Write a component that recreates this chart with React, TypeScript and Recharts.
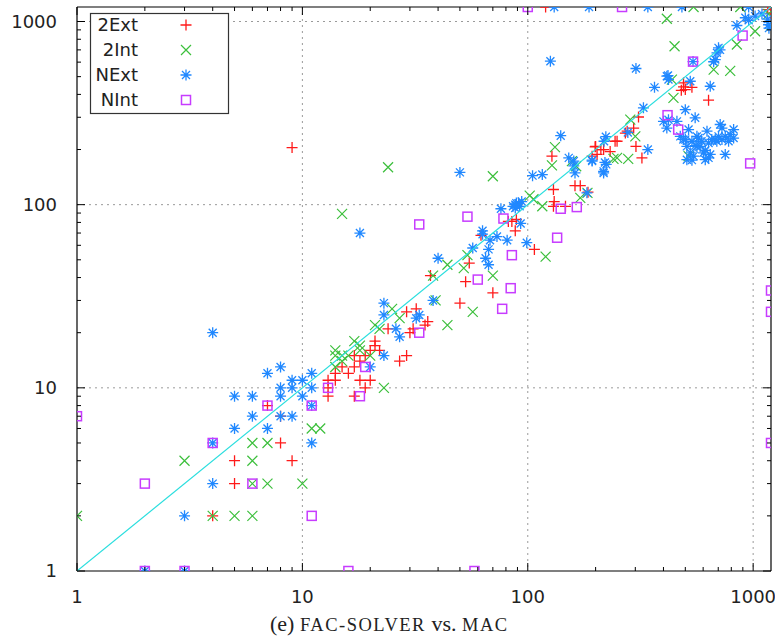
import React from "react";
import { ScatterChart, Scatter, XAxis, YAxis, CartesianGrid, ReferenceLine } from "recharts";

// log axis ticks (gnuplot style: 2..9 minor ticks in each decade)
const logTicks = [1, 2, 3, 4, 5, 6, 7, 8, 9, 10, 20, 30, 40, 50, 60, 70, 80, 90, 100, 200, 300, 400, 500, 600, 700, 800, 900, 1000];
const majorTicks = [1, 10, 100, 1000];
const gridValues = [10, 100, 1000];
const axisMax = 1200;

const seriesNames = ["2Ext", "2Int", "NExt", "NInt"];

// [FAC-SOLVER, MAC]
const ext2: [number, number][] = [
  [4, 2], [5, 4], [5, 3], [7, 8], [8, 7], [8, 5], [9, 4], [9, 205],
  [13, 11], [13, 10], [13, 9], [14, 12], [14, 11], [15, 13], [16, 12], [17, 15], [17, 13], [17, 9], [18, 14], [18, 11],
  [19, 15], [19, 10], [20, 16], [20, 11], [21, 18], [21, 17], [22, 16], [24, 21], [27, 14], [29, 15], [29, 26], [30, 20],
  [31, 21], [32, 27], [35, 22], [36, 23], [37, 41],
  [50, 29], [53, 38], [55, 48], [62, 68], [70, 33], [82, 81], [85, 81], [88, 72], [89, 83], [107, 57],
  [128, 184], [130, 121], [131, 104], [130, 98], [147, 98], [162, 127], [171, 127], [185, 117], [193, 184], [199, 207],
  [200, 208], [203, 188], [211, 200], [217, 200], [232, 195], [244, 222], [249, 222], [271, 246], [276, 252], [295, 262],
  [302, 208], [310, 301], [321, 180], [480, 421], [491, 440], [491, 462], [500, 425], [535, 437], [634, 372],
  [120, 1200], [1160, 1160], [1200, 1110],
];

const int2: [number, number][] = [
  [1, 2], [3, 4], [4, 2], [5, 2], [6, 5], [6, 4], [6, 3], [6, 2], [7, 5], [7, 3], [10, 3], [11, 6], [12, 6],
  [14, 16], [14, 15], [14, 13], [15, 14], [15, 15], [16, 15], [17, 18], [18, 17], [18, 16], [20, 15], [21, 22], [22, 21],
  [23, 10], [25, 27], [27, 24], [15, 89], [24, 160],
  [38, 41], [39, 30], [44, 22], [44, 47], [52, 45], [54, 53], [57, 26], [70, 41], [70, 143],
  [102, 112], [106, 107], [116, 98], [120, 52], [128, 164], [132, 206], [157, 173], [164, 162], [171, 109], [184, 116],
  [240, 178], [249, 180], [279, 178], [285, 291], [300, 236], [436, 482], [443, 383], [448, 733], [517, 184],
  [668, 546], [791, 538], [847, 749], [414, 1035], [1020, 885], [1170, 1100], [1200, 950], [544, 1200], [877, 1200],
];

const extN: [number, number][] = [
  [2, 1], [3, 1], [3, 2], [4, 3], [4, 5], [4, 20], [5, 6], [5, 9], [6, 9], [6, 7], [7, 6], [7, 12], [8, 13], [8, 10],
  [8, 9], [8, 7], [9, 11], [9, 10], [9, 7], [10, 11], [10, 9], [11, 12], [11, 10], [11, 8], [11, 5],
  [18, 70], [20, 13], [23, 29], [23, 25], [23, 15], [26, 21], [27, 19], [32, 24], [33, 25], [40, 51], [38, 30],
  [50, 150], [57, 58], [63, 72], [63, 69], [67, 57], [65, 51], [67, 47], [68, 64], [73, 67], [81, 64], [76, 95],
  [89, 102], [88, 96], [92, 98], [91, 102], [94, 104], [88, 100], [86, 98], [93, 79], [99, 62],
  [105, 144], [116, 146], [126, 607], [140, 238], [152, 180], [160, 163], [162, 149], [160, 173], [183, 116],
  [193, 175], [217, 149], [223, 166], [222, 235], [218, 222], [193, 173], [220, 170], [217, 152], [278, 248],
  [341, 200], [326, 338], [302, 554], [419, 507], [414, 503], [421, 482], [365, 437], [526, 472], [645, 443],
  [702, 718], [691, 674], [679, 620], [668, 603], [713, 700], [541, 604], [847, 951], [923, 1048], [955, 1015],
  [1020, 1070], [1094, 1100], [1160, 1030], [1170, 960], [1175, 920],
  [131, 1200], [187, 1200], [341, 1200], [483, 1200], [955, 1200],
  [400, 285], [414, 262], [421, 291], [459, 285], [475, 236], [500, 227], [517, 257], [508, 208], [526, 192],
  [544, 184], [535, 175], [563, 236], [582, 208], [602, 192], [613, 176], [645, 188], [634, 217], [679, 227],
  [702, 236], [727, 227], [752, 236], [791, 241], [819, 257], [778, 222], [727, 262], [714, 274], [752, 188],
  [819, 231], [624, 252], [563, 208], [572, 231], [508, 176], [634, 180], [553, 210], [490, 227], [535, 222],
  [590, 222], [655, 227], [690, 222], [613, 198], [500, 330], [553, 298],
];

const intN: [number, number][] = [
  [1, 7], [2, 3], [2, 1], [3, 1], [4, 5], [6, 3], [7, 8], [11, 8], [11, 2], [16, 1], [58, 1], [13, 10], [18, 9],
  [19, 13], [33, 20], [33, 78], [54, 86], [78, 84], [85, 53], [60, 39], [84, 35], [77, 27], [140, 95], [165, 97],
  [135, 66], [100, 1200], [262, 1200], [417, 308], [465, 257], [541, 604], [898, 838], [970, 168],
  [1200, 34], [1200, 26], [1200, 5],
];

const diagonal = [1, axisMax];

const RED = "#ff1a1a";
const GREEN = "#3cbf3c";
const BLUE = "#2088ff";
const MAGENTA = "#c73cff";
const CYAN = "#2adede";

const PLOT_TOP = 7;
const PLOT_RIGHT = 771;
const FONT = "'DejaVu Sans', sans-serif";

const toPoints = (pairs: [number, number][]) => pairs.map(([x, y]) => ({ x, y }));

const plusPath = (cx: number, cy: number) => `M${cx - 5.5},${cy}h11M${cx},${cy - 5.5}v11`;
const crossPath = (cx: number, cy: number) => `M${cx - 5},${cy - 5}l10,10M${cx - 5},${cy + 5}l10,-10`;
const starPath = (cx: number, cy: number) =>
  `M${cx - 5.5},${cy}h11M${cx},${cy - 5.5}v11M${cx - 4},${cy - 4}l8,8M${cx - 4},${cy + 4}l8,-8`;

const Plus = (p: any) => <path d={plusPath(p.cx, p.cy)} stroke={RED} strokeWidth={1.3} fill="none" />;
const Cross = (p: any) => <path d={crossPath(p.cx, p.cy)} stroke={GREEN} strokeWidth={1.2} fill="none" />;
const Star = (p: any) => <path d={starPath(p.cx, p.cy)} stroke={BLUE} strokeWidth={1.3} fill="none" />;
const Square = (p: any) => <rect x={p.cx - 4.5} y={p.cy - 4.5} width={9} height={9} stroke={MAGENTA} strokeWidth={1.5} fill="none" />;
const NoDot = () => <g />;

const XTick = (props: any) => {
  const { x, y, payload } = props;
  const v = payload.value;
  const major = majorTicks.includes(v);
  const len = major ? 8 : 4;
  return (
    <g>
      <line x1={x} x2={x} y1={y} y2={y - len} stroke="#000" />
      <line x1={x} x2={x} y1={PLOT_TOP} y2={PLOT_TOP + len} stroke="#000" />
      {major && (
        <text x={x} y={y + 32} textAnchor="middle" fontFamily={FONT} fontSize={18} fill="#222">
          {v}
        </text>
      )}
    </g>
  );
};

const YTick = (props: any) => {
  const { x, y, payload } = props;
  const v = payload.value;
  const major = majorTicks.includes(v);
  const len = major ? 8 : 4;
  return (
    <g>
      <line x1={x} x2={x + len} y1={y} y2={y} stroke="#000" />
      <line x1={PLOT_RIGHT - len} x2={PLOT_RIGHT} y1={y} y2={y} stroke="#000" />
      {major && (
        <text x={x - 20} y={y + 6} textAnchor="end" fontFamily={FONT} fontSize={18} fill="#222">
          {v}
        </text>
      )}
    </g>
  );
};

const legendMarks = [
  (cx: number, cy: number) => <path d={plusPath(cx, cy)} stroke={RED} strokeWidth={1.3} fill="none" />,
  (cx: number, cy: number) => <path d={crossPath(cx, cy)} stroke={GREEN} strokeWidth={1.2} fill="none" />,
  (cx: number, cy: number) => <path d={starPath(cx, cy)} stroke={BLUE} strokeWidth={1.3} fill="none" />,
  (cx: number, cy: number) => <rect x={cx - 4.5} y={cy - 4.5} width={9} height={9} stroke={MAGENTA} strokeWidth={1.5} fill="none" />,
];

export default function App() {
  return (
    <div style={{ position: "absolute", left: 0, top: 0, width: 775, height: 639, background: "#fff" }}>
      <ScatterChart width={775} height={639} margin={{ top: 7, right: 4, bottom: 0, left: 0 }}>
        <CartesianGrid horizontal vertical horizontalValues={gridValues} verticalValues={gridValues} stroke="#9a9a9a" strokeDasharray="2 4" />
        <XAxis
          type="number"
          dataKey="x"
          scale="log"
          domain={[1, axisMax]}
          allowDataOverflow
          ticks={logTicks}
          interval={0}
          tickSize={0}
          tickMargin={0}
          tickLine={false}
          tick={<XTick />}
          height={68}
          axisLine={{ stroke: "#000", strokeWidth: 1.2 }}
        />
        <YAxis
          type="number"
          dataKey="y"
          scale="log"
          domain={[1, axisMax]}
          allowDataOverflow
          ticks={logTicks}
          interval={0}
          tickSize={0}
          tickMargin={0}
          tickLine={false}
          tick={<YTick />}
          width={77}
          axisLine={{ stroke: "#000", strokeWidth: 1.2 }}
        />
        <ReferenceLine y={axisMax} stroke="#000" strokeWidth={1.2} />
        <ReferenceLine x={axisMax} stroke="#000" strokeWidth={1.2} />
        <Scatter name={seriesNames[0]} data={toPoints(ext2)} shape={Plus} isAnimationActive={false} />
        <Scatter name={seriesNames[1]} data={toPoints(int2)} shape={Cross} isAnimationActive={false} />
        <Scatter name={seriesNames[2]} data={toPoints(extN)} shape={Star} isAnimationActive={false} />
        <Scatter name={seriesNames[3]} data={toPoints(intN)} shape={Square} isAnimationActive={false} />
        <Scatter
          data={diagonal.map((v) => ({ x: v, y: v }))}
          line={{ stroke: CYAN, strokeWidth: 1.2 }}
          shape={NoDot}
          isAnimationActive={false}
        />
      </ScatterChart>
      <svg width={775} height={639} style={{ position: "absolute", left: 0, top: 0, pointerEvents: "none" }}>
        <rect x={90.5} y={13.5} width={138} height={100} fill="#fff" stroke="#333" strokeWidth={1.2} />
        {seriesNames.map((name, i) => {
          const cy = 25 + i * 25;
          return (
            <g key={name}>
              <text x={138} y={cy + 6} textAnchor="end" fontFamily={FONT} fontSize={18} fill="#222">
                {name}
              </text>
              {legendMarks[i](186, cy)}
            </g>
          );
        })}
        <text x={270} y={631} fontFamily="'Liberation Serif', serif" fontSize={22} fill="#222">
          (e){" "}
          <tspan fontSize={18.5} letterSpacing={1.5}>FAC-SOLVER</tspan>
          <tspan> vs. </tspan>
          <tspan fontSize={18.5} letterSpacing={1.5}>MAC</tspan>
        </text>
      </svg>
    </div>
  );
}
